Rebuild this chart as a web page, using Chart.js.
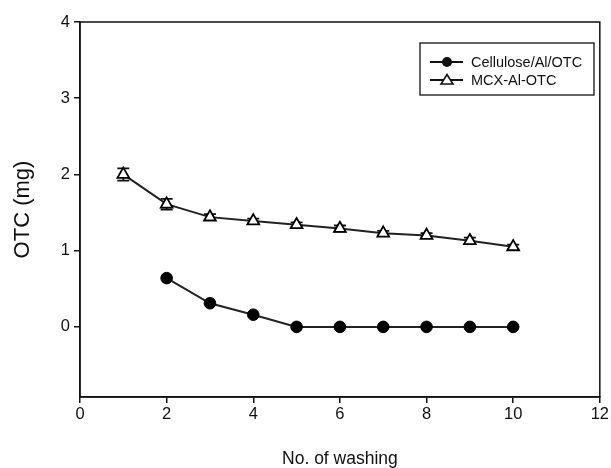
<!DOCTYPE html>
<html>
<head>
<meta charset="utf-8">
<script src="https://cdn.jsdelivr.net/npm/chart.js@4"></script>
<style>
html,body{margin:0;padding:0;background:#fff;}
#wrap{width:611px;height:468px;}
</style>
</head>
<body>
<div id="wrap"><canvas id="c" width="611" height="468"></canvas></div>
<script>
const washes = [1, 2, 3, 4, 5, 6, 7, 8, 9, 10];
const celluloseLabel = "Cellulose/Al/OTC";
const mcxLabel = "MCX-Al-OTC";
const celluloseX = [2, 3, 4, 5, 6, 7, 8, 9, 10];
const celluloseY = [0.64, 0.31, 0.16, 0.0, 0.0, 0.0, 0.0, 0.0, 0.0];
const mcxY = [2.00, 1.61, 1.44, 1.39, 1.34, 1.29, 1.23, 1.20, 1.13, 1.05];
const mcxErr = [0.08, 0.07, 0.04, 0.03, 0.03, 0.04, 0.03, 0.03, 0.04, 0.03];
const xTicks = [0, 2, 4, 6, 8, 10, 12];
const yTicks = [0, 1, 2, 3, 4];
const xTitle = "No. of washing";
const yTitle = "OTC (mg)";

const FONT = "'Liberation Sans', Arial, sans-serif";
const INK = '#111';

const errorBars = {
  id: 'errorBars',
  beforeDatasetsDraw(chart) {
    const ctx = chart.ctx;
    const xs = chart.scales.x, ys = chart.scales.y;
    ctx.save();
    ctx.strokeStyle = INK;
    ctx.lineWidth = 1.8;
    washes.forEach((w, i) => {
      const px = xs.getPixelForValue(w);
      const top = ys.getPixelForValue(mcxY[i] + mcxErr[i]);
      const bot = ys.getPixelForValue(mcxY[i] - mcxErr[i]);
      ctx.beginPath();
      ctx.moveTo(px, top); ctx.lineTo(px, bot);
      ctx.moveTo(px - 6, top); ctx.lineTo(px + 6, top);
      ctx.moveTo(px - 6, bot); ctx.lineTo(px + 6, bot);
      ctx.stroke();
    });
    ctx.restore();
  }
};

const frameAndLegend = {
  id: 'frameAndLegend',
  afterDraw(chart) {
    const ctx = chart.ctx;
    const a = chart.chartArea;
    ctx.save();
    ctx.strokeStyle = INK;
    ctx.lineWidth = 1.5;
    ctx.strokeRect(a.left, a.top, a.right - a.left, a.bottom - a.top);
    const bx = 420, by = 43, bw = 174, bh = 52;
    ctx.lineWidth = 1.3;
    ctx.strokeRect(bx, by, bw, bh);
    const rows = [
      {label: celluloseLabel, y: 62, marker: 'circle'},
      {label: mcxLabel, y: 80, marker: 'triangle'}
    ];
    ctx.font = "14.5px " + FONT;
    ctx.textBaseline = 'middle';
    ctx.fillStyle = INK;
    rows.forEach(r => {
      ctx.beginPath();
      ctx.lineWidth = 1.8;
      ctx.moveTo(430, r.y); ctx.lineTo(463, r.y);
      ctx.stroke();
      if (r.marker === 'circle') {
        ctx.beginPath();
        ctx.arc(447, r.y, 5, 0, Math.PI * 2);
        ctx.fill();
      } else {
        ctx.beginPath();
        ctx.moveTo(447, r.y - 5.5);
        ctx.lineTo(453, r.y + 4);
        ctx.lineTo(441, r.y + 4);
        ctx.closePath();
        ctx.fillStyle = '#fff';
        ctx.fill();
        ctx.lineWidth = 1.6;
        ctx.stroke();
        ctx.fillStyle = INK;
      }
      ctx.fillText(r.label, 471, r.y + 1);
    });
    ctx.restore();
  }
};

new Chart(document.getElementById('c'), {
  type: 'line',
  data: {
    datasets: [
      {
        label: celluloseLabel,
        data: celluloseX.map((x, i) => ({x: x, y: celluloseY[i]})),
        borderColor: '#222',
        borderWidth: 2,
        pointStyle: 'circle',
        pointRadius: 5.8,
        pointBackgroundColor: '#000',
        pointBorderColor: '#000',
        pointBorderWidth: 1,
        tension: 0
      },
      {
        label: mcxLabel,
        data: washes.map((x, i) => ({x: x, y: mcxY[i]})),
        borderColor: '#222',
        borderWidth: 2,
        pointStyle: 'triangle',
        pointRadius: 6.8,
        pointBackgroundColor: '#fff',
        pointBorderColor: '#000',
        pointBorderWidth: 1.8,
        tension: 0
      }
    ]
  },
  options: {
    responsive: false,
    animation: false,
    events: [],
    layout: {padding: {left: 0, right: 11, top: 22, bottom: 0}},
    plugins: {legend: {display: false}, tooltip: {enabled: false}},
    scales: {
      x: {
        type: 'linear',
        min: 0, max: 12,
        afterBuildTicks: s => { s.ticks = xTicks.map(v => ({value: v})); },
        afterFit: s => { s.height = 71; },
        grid: {drawOnChartArea: false, drawTicks: true, tickLength: 6, color: INK, lineWidth: 1.5},
        border: {display: true, color: INK, width: 1.5},
        ticks: {color: INK, font: {family: FONT, size: 16.5}, padding: 2, maxRotation: 0},
        title: {display: true, text: xTitle, color: INK, font: {family: FONT, size: 17.5, lineHeight: 1.0}, padding: {top: 0, bottom: 0}}
      },
      y: {
        type: 'linear',
        min: -0.92, max: 4,
        afterBuildTicks: s => { s.ticks = yTicks.map(v => ({value: v})); },
        afterFit: s => { s.width = 80; },
        grid: {drawOnChartArea: false, drawTicks: true, tickLength: 6, color: INK, lineWidth: 1.5},
        border: {display: true, color: INK, width: 1.5},
        ticks: {color: INK, font: {family: FONT, size: 16.5}, padding: 4},
        title: {display: true, text: yTitle, color: INK, font: {family: FONT, size: 22}, padding: {top: 10, bottom: 0}}
      }
    }
  },
  plugins: [errorBars, frameAndLegend]
});
</script>
</body>
</html>
